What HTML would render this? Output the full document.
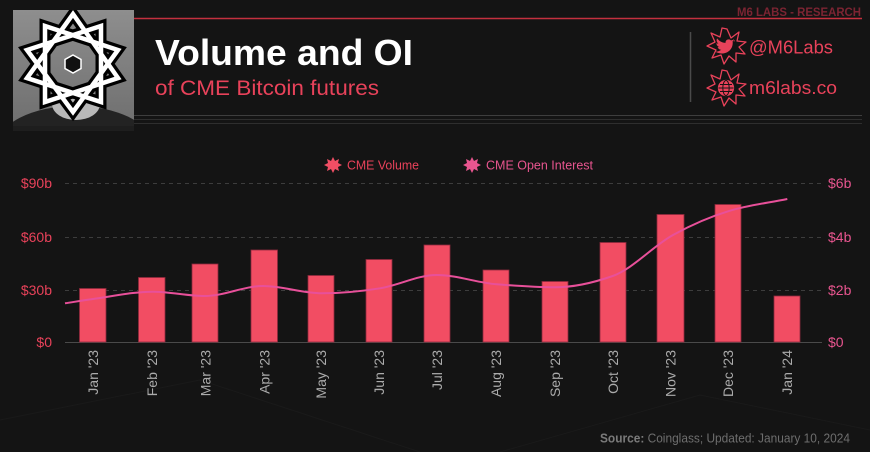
<!DOCTYPE html>
<html><head><meta charset="utf-8"><style>
html,body{margin:0;padding:0;background:#141414;}
svg{display:block;}
text{font-family:"Liberation Sans",sans-serif;}
</style></head><body>
<svg width="870" height="452" viewBox="0 0 870 452" xmlns="http://www.w3.org/2000/svg">
<rect width="870" height="452" fill="#141414"/>
<g stroke="#1a1a1a" stroke-width="1" fill="none">
<path d="M0 420 L200 380 L420 452 M500 452 L700 395 L870 430"/>
</g>

<defs>
<linearGradient id="lg" x1="0" y1="0" x2="0" y2="1"><stop offset="0" stop-color="#8e8e8e"/><stop offset="1" stop-color="#6e6e6e"/></linearGradient>
<clipPath id="lc"><rect x="13" y="10" width="121" height="120"/></clipPath>
</defs>
<g clip-path="url(#lc)">
<rect x="13" y="10" width="121" height="120" fill="url(#lg)"/>
<ellipse cx="75" cy="146" rx="78" ry="40" fill="#232323"/>
<ellipse cx="76" cy="104" rx="24" ry="16" fill="#b8b8b8"/>
<polygon points="73,14 118,78 45,102 45,26 118,50 73,112 27,50 101,26 101,102 27,78" fill="none" stroke="#000" stroke-width="11" stroke-linejoin="miter"/>
<polygon points="73,14 118,78 45,102 45,26 118,50 73,112 27,50 101,26 101,102 27,78" fill="none" stroke="#fff" stroke-width="4.5" stroke-linejoin="miter"/>
<polygon points="73,55 81,59.5 81,68.5 73,73 65,68.5 65,59.5" fill="#111" stroke="#fff" stroke-width="1.5"/>
</g>
<rect x="13" y="126" width="121" height="5" fill="#1e1e1e"/>

<line x1="134" y1="18.5" x2="862" y2="18.5" stroke="#c4303f" stroke-width="1.5"/>
<text x="861" y="16" text-anchor="end" font-size="11.5" font-weight="bold" fill="#7c2432" textLength="124" lengthAdjust="spacingAndGlyphs">M6 LABS - RESEARCH</text>
<line x1="134" y1="115.5" x2="862" y2="115.5" stroke="#3e3e3e" stroke-width="1"/>
<line x1="134" y1="119.5" x2="862" y2="119.5" stroke="#2e2e2e" stroke-width="1"/>
<line x1="134" y1="123.5" x2="862" y2="123.5" stroke="#2e2e2e" stroke-width="1"/>

<text x="155" y="65" font-size="36" font-weight="bold" fill="#ffffff" textLength="258" lengthAdjust="spacingAndGlyphs">Volume and OI</text>
<text x="155" y="95" font-size="21" fill="#e8425a" textLength="224" lengthAdjust="spacingAndGlyphs">of CME Bitcoin futures</text>

<line x1="690.5" y1="32" x2="690.5" y2="102" stroke="#4a4a4a" stroke-width="1.5"/>

<g fill="none" stroke="#e8425a" stroke-width="1.3" stroke-linejoin="round">
<polygon points="727,29 731,38 739,32 737,41 746,42 739,47 745,54 736,53 736,62 729,56 724,64 721,55 712,58 716,50 707,46 715,42 711,33 720,37 722,28"/>
<polygon points="727,71 731,80 739,74 737,83 746,84 739,89 745,96 736,95 736,104 729,98 724,106 721,97 712,100 716,92 707,88 715,84 711,75 720,79 722,70"/>
</g>
<path d="M735 41 c-1 .5 -2 .7 -3 .8 c1 -.6 1.8 -1.5 2.1 -2.6 c-1 .6 -2 1 -3.2 1.2 c-2 -2.2 -5.8 -.6 -5.3 2.5 c-4 -.2 -6.5 -2 -8.5 -4.5 c-1 1.8 -.4 4 1.3 5.2 c-.8 0 -1.4 -.2 -2 -.5 c0 1.9 1.3 3.5 3.1 3.9 c-.6 .2 -1.2 .2 -1.8 .1 c.5 1.6 2 2.7 3.6 2.7 c-1.8 1.4 -4 2 -6 1.8 c8.5 5 18 -.5 17.4 -9.5 c.9 -.6 1.6 -1.4 2.3 -2.1z" fill="#e8425a"/>
<g fill="none" stroke="#e8425a" stroke-width="1.3">
<circle cx="726" cy="88" r="7.5" fill="#e8425a"/>
<ellipse cx="726" cy="88" rx="3.2" ry="7.5" stroke="#141414" stroke-width="1"/>
<line x1="718.5" y1="88" x2="733.5" y2="88" stroke="#141414" stroke-width="1"/>
<line x1="720" y1="84.5" x2="732" y2="84.5" stroke="#141414" stroke-width="1"/>
<line x1="720" y1="91.5" x2="732" y2="91.5" stroke="#141414" stroke-width="1"/>
</g>
<text x="749" y="53.5" font-size="18.5" fill="#e8425a" textLength="84" lengthAdjust="spacingAndGlyphs">@M6Labs</text>
<text x="749" y="94" font-size="18.5" fill="#e8425a" textLength="88" lengthAdjust="spacingAndGlyphs">m6labs.co</text>

<polygon points="333,157 335,161 339,159 338,163 342,165 338,167 339,171 335,169 333,173 331,169 327,171 328,167 324,165 328,163 327,159 331,161" fill="#f04e64"/>
<text x="347" y="169.5" font-size="12.5" fill="#e8425a" textLength="72" lengthAdjust="spacingAndGlyphs">CME Volume</text>
<polygon points="472,157 474,161 478,159 477,163 481,165 477,167 478,171 474,169 472,173 470,169 466,171 467,167 463,165 467,163 466,159 470,161" fill="#e8558f"/>
<text x="486" y="169.5" font-size="12.5" fill="#e8558f" textLength="107" lengthAdjust="spacingAndGlyphs">CME Open Interest</text>

<g stroke="#3d3d3d" stroke-width="1" stroke-dasharray="4,4">
<line x1="65" y1="183.5" x2="822" y2="183.5"/>
<line x1="65" y1="237.5" x2="822" y2="237.5"/>
<line x1="65" y1="290.5" x2="822" y2="290.5"/>
</g>
<line x1="65" y1="342.5" x2="822" y2="342.5" stroke="#4a4a4a" stroke-width="1"/>

<g font-size="14" fill="#e8425a" text-anchor="end">
<text x="52" y="188">$90b</text>
<text x="52" y="242">$60b</text>
<text x="52" y="295">$30b</text>
<text x="52" y="347">$0</text>
</g>
<g font-size="14" fill="#e8558f">
<text x="828" y="188">$6b</text>
<text x="828" y="242">$4b</text>
<text x="828" y="295">$2b</text>
<text x="828" y="347">$0</text>
</g>

<g fill="#f24d63" stroke="#8e2a3c" stroke-width="0.8">
<rect x="79.5" y="288.5" width="26.5" height="53.5"/>
<rect x="138.5" y="277.5" width="26.5" height="64.5"/>
<rect x="192" y="264" width="26" height="78"/>
<rect x="251" y="250" width="26.5" height="92"/>
<rect x="308" y="275.5" width="26" height="66.5"/>
<rect x="366" y="259.5" width="26" height="82.5"/>
<rect x="424" y="245" width="26" height="97"/>
<rect x="483" y="270" width="26" height="72"/>
<rect x="542" y="281.5" width="26" height="60.5"/>
<rect x="600" y="242.5" width="26" height="99.5"/>
<rect x="657" y="214.5" width="27" height="127.5"/>
<rect x="715" y="204.5" width="26" height="137.5"/>
<rect x="774" y="296" width="26" height="46"/>
</g>

<path d="M65 303.3 C74.33 301.87 83.67 300.28 93 299 C113 296.25 133 291.7 153 291.7 C170.33 291.7 187.67 296 205 296 C224.33 296 243.67 286 263 286 C282.57 286 302.13 293.3 321.7 293.3 C341.13 293.3 360.57 291.41 380 288.3 C398.9 285.28 417.8 275 436.7 275 C456.7 275 476.7 282.7 496.7 284.3 C516.13 285.85 535.57 287.3 555 287.3 C574.23 287.3 593.47 282.73 612.7 276 C632.8 268.96 652.9 246.06 673 235 C692 224.55 711 216.4 730 210.7 C749.1 204.97 768.2 202.9 787.3 199" fill="none" stroke="#e8509a" stroke-width="2"/>

<g font-size="14" fill="#ababab" text-anchor="end">
<text transform="translate(98,350) rotate(-90)">Jan '23</text>
<text transform="translate(157,350) rotate(-90)">Feb '23</text>
<text transform="translate(210.5,350) rotate(-90)">Mar '23</text>
<text transform="translate(269.5,350) rotate(-90)">Apr '23</text>
<text transform="translate(326,350) rotate(-90)">May '23</text>
<text transform="translate(384,350) rotate(-90)">Jun '23</text>
<text transform="translate(442,350) rotate(-90)">Jul '23</text>
<text transform="translate(501,350) rotate(-90)">Aug '23</text>
<text transform="translate(560,350) rotate(-90)">Sep '23</text>
<text transform="translate(618,350) rotate(-90)">Oct '23</text>
<text transform="translate(675.5,350) rotate(-90)">Nov '23</text>
<text transform="translate(733,350) rotate(-90)">Dec '23</text>
<text transform="translate(792,350) rotate(-90)">Jan '24</text>
</g>

<text x="600" y="442.5" font-size="12.5" fill="#6e6e6e" textLength="250" lengthAdjust="spacingAndGlyphs"><tspan font-weight="bold" fill="#7a7a7a">Source:</tspan> Coinglass; Updated: January 10, 2024</text>
</svg>
</body></html>
